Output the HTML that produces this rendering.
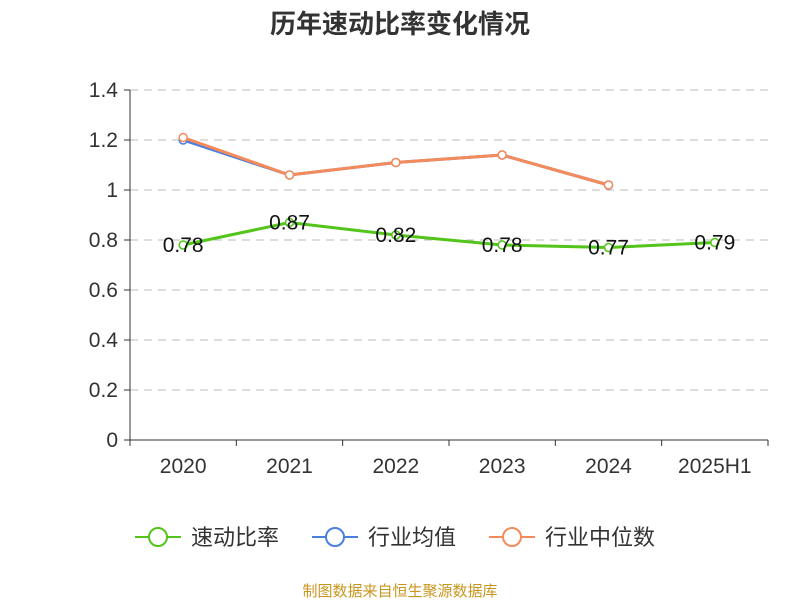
<!DOCTYPE html>
<html><head><meta charset="utf-8"><style>
body{margin:0;background:#fff;font-family:"Liberation Sans","Noto Sans CJK SC",sans-serif;}
</style></head><body>
<svg id="c" width="800" height="600" xmlns="http://www.w3.org/2000/svg">
<text x="400" y="33" text-anchor="middle" font-size="26" font-weight="bold" fill="#333" font-family="Liberation Sans, Noto Sans CJK SC, sans-serif">历年速动比率变化情况</text>
<g id="grid"></g><g id="axes"></g><g id="series"></g>
<g id="legend"></g>
<text x="400" y="596" text-anchor="middle" font-size="15" fill="#c8961e" font-family="Liberation Sans, Noto Sans CJK SC, sans-serif">制图数据来自恒生聚源数据库</text>
</svg>
<script>
const categories=["2020","2021","2022","2023","2024","2025H1"];
const quickRatio=[0.78,0.87,0.82,0.78,0.77,0.79];
const industryAvg=[1.20,1.06,1.11,1.14,1.02,null];
const industryMedian=[1.21,1.06,1.11,1.14,1.02,null];
const yTicks=[0,0.2,0.4,0.6,0.8,1,1.2,1.4];
const tickLabels=["0","0.2","0.4","0.6","0.8","1","1.2","1.4"];
const NS="http://www.w3.org/2000/svg";
const L=130,R=768,T=90,B=440;
const bw=(R-L)/categories.length;
const xs=i=>L+bw*(i+0.5);
const ys=v=>B-(v/1.4)*(B-T);
function mk(tag,attrs,parent){const e=document.createElementNS(NS,tag);for(const k in attrs)e.setAttribute(k,attrs[k]);parent.appendChild(e);return e;}
const grid=document.getElementById('grid'),axes=document.getElementById('axes'),ser=document.getElementById('series'),leg=document.getElementById('legend');
yTicks.forEach((t,i)=>{
 if(t>0){const g=mk('line',{x1:L,x2:R,y1:ys(t),y2:ys(t),stroke:'#bbb','stroke-dasharray':'8,6'},grid);
 
 }
 const tk=mk('line',{x1:L-6,x2:L,y1:ys(t),y2:ys(t),stroke:'#333'},axes);
 
 
 const tx=mk('text',{x:L-12,y:ys(t)+7,'text-anchor':'end','font-size':21,fill:'#333'},axes);tx.textContent=tickLabels[i];
 
 
});
const ya=mk('line',{x1:L,x2:L,y1:T,y2:B,stroke:'#333'},axes);


const xa=mk('line',{x1:L,x2:R,y1:B,y2:B,stroke:'#333'},axes);


for(let i=0;i<=categories.length;i++){const t=mk('line',{x1:L+bw*i,x2:L+bw*i,y1:B,y2:B+6,stroke:'#333'},axes);
 
 }
categories.forEach((c,i)=>{const t=mk('text',{x:xs(i),y:B+33,'text-anchor':'middle','font-size':21,fill:'#333'},axes);t.textContent=c;
 
 });
function drawSeries(vals,color,name,labels){
 const pts=vals.map((v,i)=>v==null?null:[xs(i),ys(v)]).filter(p=>p);
 const p=mk('polyline',{points:pts.map(q=>q.join(',')).join(' '),fill:'none',stroke:color,'stroke-width':3},ser);
 
 
 vals.forEach((v,i)=>{if(v==null)return;
  const c=mk('circle',{cx:xs(i),cy:ys(v),r:4,fill:'#fff',stroke:color,'stroke-width':1.5},ser);
  
  
  if(labels){const t=mk('text',{x:xs(i),y:ys(v)+7,'text-anchor':'middle','font-size':21,fill:'#111'},ser);t.textContent=v.toFixed(2);
  
  }
 });
}
drawSeries(industryAvg,'#4a7fe0','industry-avg',false);
drawSeries(industryMedian,'#f58a5a','industry-median',false);
drawSeries(quickRatio,'#52c41a','quick-ratio',true);
[["速动比率","#52c41a",135],["行业均值","#4a7fe0",312],["行业中位数","#f58a5a",489]].forEach(([n,c,x])=>{
 const g=mk('g',{},leg);
 
 
 mk('line',{x1:x,x2:x+46,y1:537,y2:537,stroke:c,'stroke-width':2},g);
 mk('circle',{cx:x+23,cy:537,r:9,fill:'#fff',stroke:c,'stroke-width':2},g);
 const t=mk('text',{x:x+56,y:545,'font-size':22,fill:'#333'},g);t.textContent=n;
});
</script>
</body></html>
